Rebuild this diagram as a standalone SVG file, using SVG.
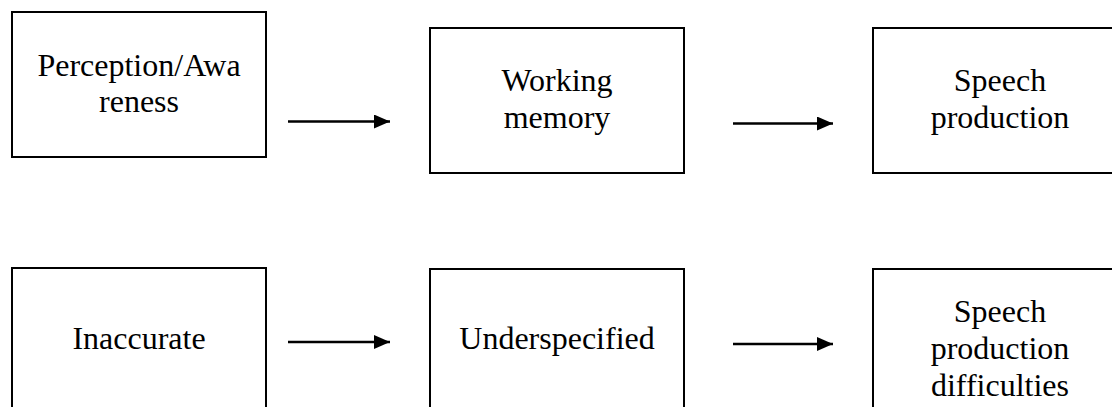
<svg xmlns="http://www.w3.org/2000/svg" width="1112" height="407" viewBox="0 0 1112 407">
<defs>
<style>
.box{fill:#fff;stroke:#000;stroke-width:2}
.lbl{font-family:"Liberation Serif","Times New Roman",serif;font-size:32px;fill:#000;text-anchor:middle}
.conn{stroke:#000;stroke-width:2.5;fill:none}
</style>
<marker id="ah" markerWidth="16" markerHeight="14" refX="16" refY="7" orient="auto" markerUnits="userSpaceOnUse">
<path d="M0,0 L16,7 L0,14 Z" fill="#000"/>
</marker>
</defs>
<rect width="1112" height="407" fill="#fff"/>
<g id="n1"><rect class="box" x="12" y="12" width="254" height="145"/><text class="lbl" x="139" y="76">Perception/Awa</text><text class="lbl" x="139" y="112">reness</text></g>
<g id="n2"><rect class="box" x="430" y="28" width="254" height="145"/><text class="lbl" x="557" y="91">Working</text><text class="lbl" x="557" y="128">memory</text></g>
<g id="n3"><rect class="box" x="873" y="28" width="254" height="145"/><text class="lbl" x="1000" y="91">Speech</text><text class="lbl" x="1000" y="128">production</text></g>
<g id="n4"><rect class="box" x="12" y="268" width="254" height="160"/><text class="lbl" x="139" y="349">Inaccurate</text></g>
<g id="n5"><rect class="box" x="430" y="269" width="254" height="160"/><text class="lbl" x="557" y="349">Underspecified</text></g>
<g id="n6"><rect class="box" x="873" y="269" width="254" height="160"/><text class="lbl" x="1000" y="322">Speech</text><text class="lbl" x="1000" y="359">production</text><text class="lbl" x="1000" y="396">difficulties</text></g>
<g id="connectors">
<line class="conn" x1="288" y1="121.5" x2="390" y2="121.5" marker-end="url(#ah)"/>
<line class="conn" x1="733" y1="123.5" x2="833" y2="123.5" marker-end="url(#ah)"/>
<line class="conn" x1="288" y1="342" x2="390" y2="342" marker-end="url(#ah)"/>
<line class="conn" x1="733" y1="344" x2="833" y2="344" marker-end="url(#ah)"/>
</g>
</svg>
